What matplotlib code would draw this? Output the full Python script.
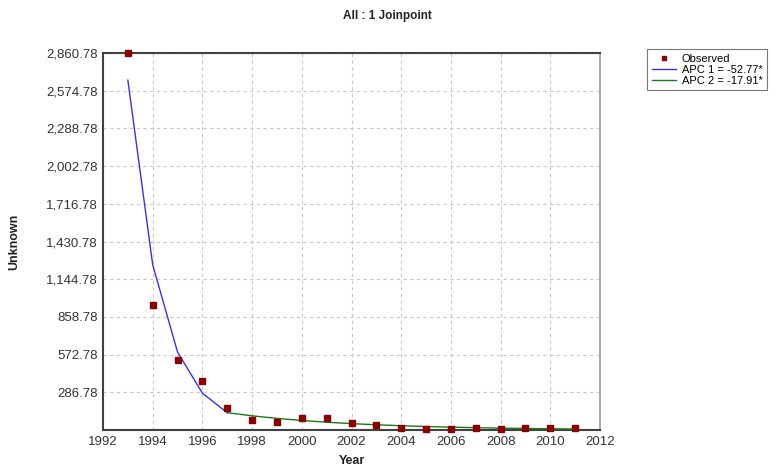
import matplotlib
matplotlib.use("Agg")
import matplotlib.pyplot as plt

plt.rcParams['font.family'] = ['Liberation Sans', 'DejaVu Sans']

years = [1993, 1994, 1995, 1996, 1997, 1998, 1999, 2000, 2001, 2002,
         2003, 2004, 2005, 2006, 2007, 2008, 2009, 2010, 2011]
observed = [2860, 950, 531, 372, 169, 76, 58, 89, 89, 51,
            40, 15, 10, 8, 15, 8, 14, 17, 18]

seg1_years = [1993, 1994, 1995, 1996, 1997]
seg1_fit = [2655, 1254, 592, 280, 132]

seg2_years = [1997, 1998, 1999, 2000, 2001, 2002, 2003, 2004, 2005,
              2006, 2007, 2008, 2009, 2010, 2011]
seg2_fit = [132, 108.4, 89.0, 73.0, 60.0, 49.2, 40.4, 33.2, 27.2,
            22.4, 18.4, 15.1, 12.4, 10.1, 8.3]

ytick_vals = [286.78, 572.78, 858.78, 1144.78, 1430.78, 1716.78,
              2002.78, 2288.78, 2574.78, 2860.78]
xtick_vals = [1992, 1994, 1996, 1998, 2000, 2002, 2004, 2006, 2008, 2010, 2012]

labels = ["Observed", "APC 1 = -52.77*", "APC 2 = -17.91*"]

fig = plt.figure(figsize=(7.75, 4.7), dpi=100)
ax = fig.add_axes([0.1329, 0.0851, 0.6413, 0.8021])

ax.plot(seg1_years, seg1_fit, color='#3333ee', lw=1.0, label=labels[1], zorder=3)
ax.plot(seg2_years, seg2_fit, color='#1a7a1a', lw=1.0, label=labels[2], zorder=3)
ax.plot(years, observed, 's', color='#8b0000', ms=5, ls='none', label=labels[0],
        zorder=4, clip_on=False)

ax.set_xlim(1992, 2012)
ax.set_ylim(0.78, 2860.78)
ax.set_xticks(xtick_vals)
ax.set_xticklabels([str(v) for v in xtick_vals])
ax.set_yticks(ytick_vals)
ax.set_yticklabels([f"{v:,.2f}" for v in ytick_vals])
ax.tick_params(axis='both', labelsize=9.5, colors='#333333', length=0, pad=4)
ax.grid(True, color='#c8c8c8', ls=(0, (3, 3)), lw=0.8)
ax.set_axisbelow(True)

for s in ['left', 'bottom', 'top']:
    ax.spines[s].set_color('#404040')
    ax.spines[s].set_linewidth(1.5)
ax.spines['right'].set_color('#999999')
ax.spines['right'].set_linewidth(1.2)

ax.set_xlabel("Year", fontsize=9, fontweight='bold', color='#222222', labelpad=5)
ax.set_ylabel("Unknown", fontsize=9, fontweight='bold', color='#222222', labelpad=18)
fig.text(0.5, 0.965, "All : 1 Joinpoint", fontsize=8.5, fontweight='bold',
         color='#222222', ha='center', va='center')

h, l = ax.get_legend_handles_labels()
order = [2, 0, 1]
leg = fig.legend([h[i] for i in order], [l[i] for i in order],
                 loc='upper left', bbox_to_anchor=(0.828, 0.907),
                 fontsize=8, frameon=True, fancybox=False, handlelength=2.2,
                 borderpad=0.4, labelspacing=0.1, handletextpad=0.5,
                 markerscale=0.7)
leg.get_frame().set_edgecolor('#555555')
leg.get_frame().set_linewidth(0.8)

fig.savefig("out.png", dpi=100)
